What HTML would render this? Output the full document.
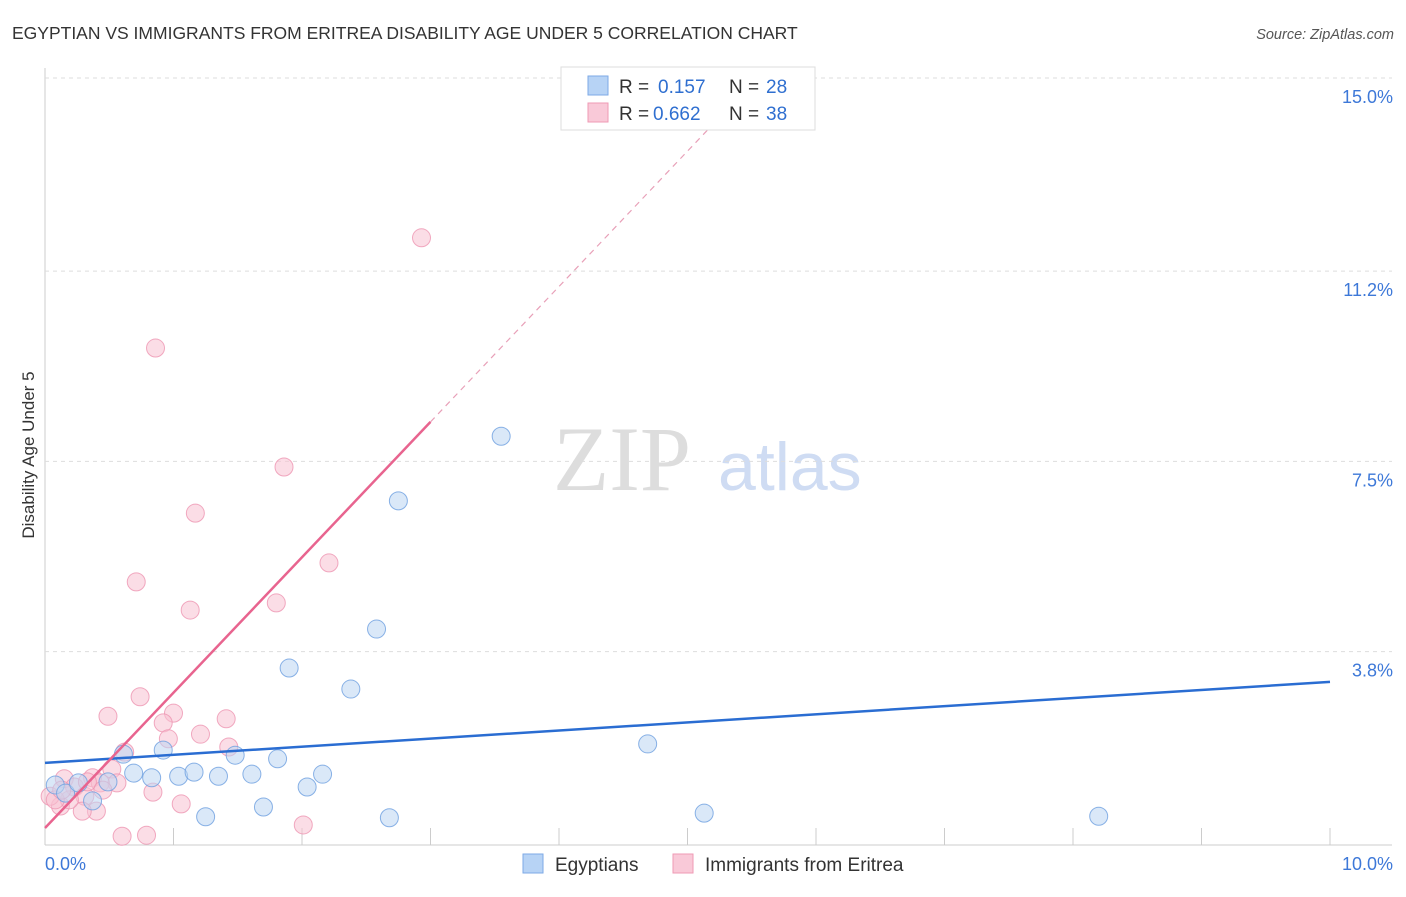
<!DOCTYPE html>
<html><head><meta charset="utf-8"><style>
body{margin:0;background:#fff;font-family:"Liberation Sans",sans-serif}
</style></head><body>
<svg id="c" width="1406" height="892" font-family="Liberation Sans, sans-serif">
<text x="12" y="39" font-size="17.5" fill="#333">EGYPTIAN VS IMMIGRANTS FROM ERITREA DISABILITY AGE UNDER 5 CORRELATION CHART</text>
<text x="1394" y="39" font-size="14.5" fill="#555" font-style="italic" text-anchor="end">Source: ZipAtlas.com</text>
<text x="34" y="455" font-size="17" fill="#333" text-anchor="middle" transform="rotate(-90 34 455)">Disability Age Under 5</text>
<text x="553" y="490" font-size="92" fill="#ddd" style="font-family:'Liberation Serif',serif">ZIP</text>
<text x="718" y="490" font-size="68" fill="#cfdcf3">atlas</text>
<g id="grid"></g><g id="marks"></g>
<g>
<rect x="561" y="67" width="254" height="63" fill="#fff" stroke="#ddd"/>
<rect x="588" y="76" width="20" height="19" fill="#b7d3f5" stroke="#7eaae6"/>
<text x="619" y="93" font-size="19" fill="#333">R =</text>
<text x="658" y="93" font-size="19" fill="#2f6fd0">0.157</text>
<text x="729" y="93" font-size="19" fill="#333">N =</text>
<text x="766" y="93" font-size="19" fill="#2f6fd0">28</text>
<rect x="588" y="103" width="20" height="19" fill="#f9c9d8" stroke="#ef9ab4"/>
<text x="619" y="120" font-size="19" fill="#333">R =</text>
<text x="653" y="120" font-size="19" fill="#2f6fd0">0.662</text>
<text x="729" y="120" font-size="19" fill="#333">N =</text>
<text x="766" y="120" font-size="19" fill="#2f6fd0">38</text>
</g>
<g>
<rect x="523" y="854" width="20" height="19" fill="#b7d3f5" stroke="#7eaae6"/>
<text x="555" y="871" font-size="19" fill="#333">Egyptians</text>
<rect x="673" y="854" width="20" height="19" fill="#f9c9d8" stroke="#ef9ab4"/>
<text x="705" y="871" font-size="19" fill="#333">Immigrants from Eritrea</text>
</g>
</svg>
<script>
const blueX=[3.55,2.75,2.58,1.90,2.38,4.69,0.92,0.61,1.48,1.81,0.69,0.83,1.04,1.16,1.35,1.61,2.16,2.04,0.37,1.70,1.25,2.68,5.13,8.20,0.08,0.16,0.26,0.49];
const blueY=[8.01,6.75,4.25,3.49,3.08,2.01,1.89,1.81,1.79,1.72,1.44,1.35,1.38,1.46,1.38,1.42,1.42,1.17,0.90,0.78,0.59,0.57,0.66,0.60,1.21,1.05,1.25,1.27];
const pinkX=[2.93,0.86,1.86,1.17,2.21,0.71,1.13,1.80,0.74,0.49,1.00,0.92,1.41,0.96,1.21,1.43,0.62,0.52,0.37,0.56,0.84,1.06,0.15,0.23,0.31,0.40,0.29,0.12,0.04,2.01,0.60,0.79,0.43,0.19,0.08,0.13,0.33,0.45];
const pinkY=[11.88,9.73,7.41,6.51,5.54,5.17,4.62,4.76,2.93,2.55,2.61,2.42,2.50,2.11,2.20,1.95,1.85,1.52,1.35,1.25,1.07,0.84,1.33,1.17,0.99,0.70,0.70,0.80,0.99,0.43,0.21,0.23,1.25,0.92,0.92,1.11,1.27,1.11];
const yTicks=[3.8,7.5,11.2,15.0];
const yTickLabels=["3.8%","7.5%","11.2%","15.0%"];
const xTickLabels=["0.0%","10.0%"];
const blueLine=[1.64,3.22];
const pinkLine=[0.37,8.29];
const pinkLineX=3.0;
const NS="http://www.w3.org/2000/svg";
const sx=v=>45+v*128.5, sy=v=>847-v*51.28;
const g=document.getElementById('grid'), m=document.getElementById('marks');
function el(t,a,p){const e=document.createElementNS(NS,t);for(const k in a)e.setAttribute(k,a[k]);p.appendChild(e);return e;}
let ax=el('line',{x1:45,y1:68,x2:45,y2:845,stroke:'#ccc'},g);


let bx=el('line',{x1:45,y1:845,x2:1392,y2:845,stroke:'#ccc'},g);


for(let i=1;i<=10;i++){const t=el('line',{x1:sx(i),y1:828,x2:sx(i),y2:845,stroke:'#ccc'},g);

}
yTicks.forEach((v,i)=>{const y=v===15?78:sy(v*1.0027);
const l=el('line',{x1:45,y1:y,x2:1392,y2:y,stroke:'#ddd','stroke-dasharray':'4,4'},g);


const t=el('text',{x:1393,y:y+25,'font-size':18,fill:'#3d78d8','text-anchor':'end'},g);t.textContent=yTickLabels[i];

});
xTickLabels.forEach((s,i)=>{const t=el('text',{x:i?1393:45,y:870,'font-size':18,fill:'#3d78d8','text-anchor':i?'end':'start'},g);t.textContent=s;

});
function pts(X,Y,f,s,name){X.forEach((x,i)=>{const c=el('circle',{cx:sx(x),cy:sy(Y[i]),r:9,fill:f,'fill-opacity':0.55,stroke:s,'stroke-opacity':0.8},m);

});}
pts(pinkX,pinkY,'#f7c1d2','#ee95b1','eritrea-point');
pts(blueX,blueY,'#bcd5f3','#6d9fe0','egyptian-point');
let bl=el('line',{x1:sx(0),y1:sy(blueLine[0]),x2:sx(10),y2:sy(blueLine[1]),stroke:'#2a6dd2','stroke-width':2.5},m);


let pl=el('line',{x1:sx(0),y1:sy(pinkLine[0]),x2:sx(pinkLineX),y2:sy(pinkLine[1]),stroke:'#e8648f','stroke-width':2.5},m);


const slope=(pinkLine[1]-pinkLine[0])/pinkLineX, xe=(14.6-pinkLine[0])/slope;
let pd=el('line',{x1:sx(pinkLineX),y1:sy(pinkLine[1]),x2:sx(xe),y2:sy(14.6),stroke:'#e8a0b8','stroke-width':1.2,'stroke-dasharray':'6,5'},m);


</script>
</body></html>
